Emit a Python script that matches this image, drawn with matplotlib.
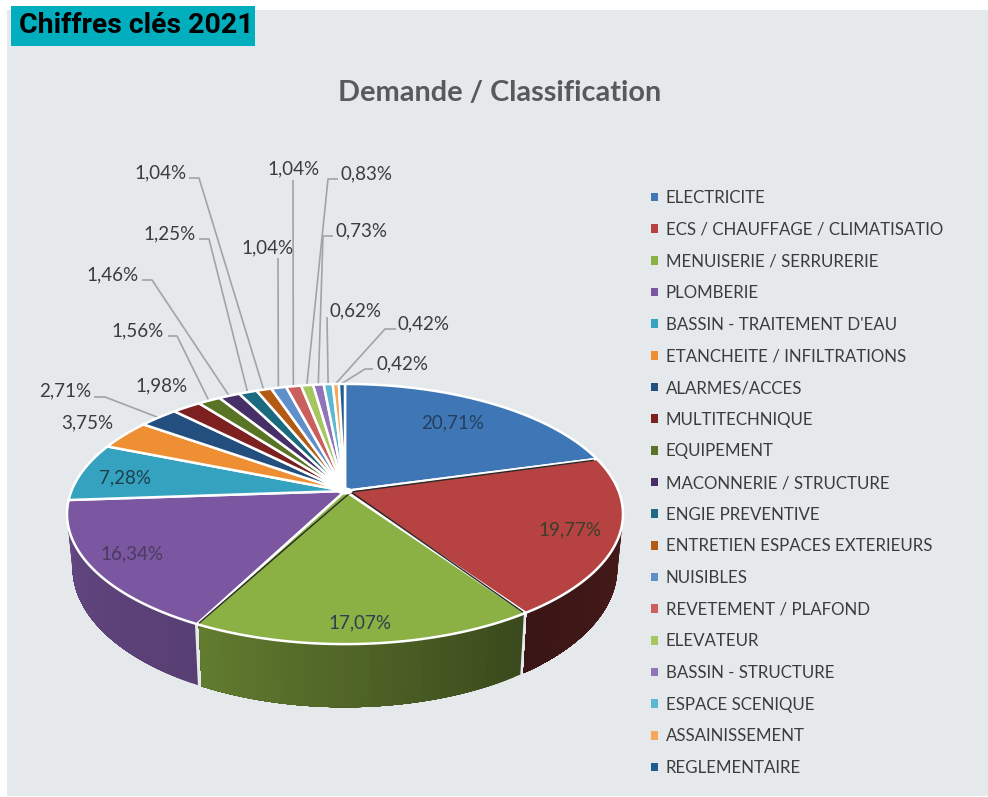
#!/usr/bin/env python3
import numpy as np
import matplotlib
matplotlib.use("Agg")
import matplotlib.pyplot as plt
from matplotlib.patches import Polygon, Rectangle

categories = ["ELECTRICITE", "ECS / CHAUFFAGE / CLIMATISATIO", "MENUISERIE / SERRURERIE",
              "PLOMBERIE", "BASSIN - TRAITEMENT D'EAU", "ETANCHEITE / INFILTRATIONS",
              "ALARMES/ACCES", "MULTITECHNIQUE", "EQUIPEMENT", "MACONNERIE / STRUCTURE",
              "ENGIE PREVENTIVE", "ENTRETIEN ESPACES EXTERIEURS", "NUISIBLES",
              "REVETEMENT / PLAFOND", "ELEVATEUR", "BASSIN - STRUCTURE", "ESPACE SCENIQUE",
              "ASSAINISSEMENT", "REGLEMENTAIRE"]
values = [20.71, 19.77, 17.07, 16.34, 7.28, 3.75, 2.71, 1.98, 1.56, 1.46,
          1.25, 1.04, 1.04, 1.04, 0.83, 0.73, 0.62, 0.42, 0.42]
colors = ["#3f76b5", "#b64342", "#8bb043", "#7a57a0", "#35a3bf", "#ef8f34", "#224f7d",
          "#7c2020", "#5a7425", "#452f66", "#1c6a7f", "#b35a14", "#5f90c9", "#cb5f5e",
          "#a5c661", "#9272b8", "#5bb8d0", "#f5a75c", "#1f5b94"]

# label centre (px) per slice
label_pos = [(453, 423), (570, 530), (360, 623), (132, 554), (125, 478), (87, 423), (65, 391),
             (161, 386), (138, 331), (112, 275), (170, 234), (160, 173), (267, 248), (293, 169),
             (366, 174), (361, 231), (355, 311), (423, 324), (402, 364)]
# leader elbows (px), first point is next to the label
leaders = {6: [(94, 397), (105, 397)], 8: [(168, 336), (177, 336)], 9: [(142, 280), (152, 280)],
           10: [(199, 239), (209, 239)], 11: [(189, 178), (199, 178)], 12: [(278, 258)],
           13: [(293, 180)], 14: [(338, 179), (328, 179)], 15: [(333, 236), (323, 236)],
           16: [(327, 317)], 17: [(396, 329), (385, 329)], 18: [(373, 369), (365, 369)]}

# pie projection, tilted disc with perspective
CX, CY = 345, 491
RX, RY = 273.6, 126
PERSP = 0.177
DEPTH = 52


def project(a, r=1.0, drop=0.0):
    # a is clockwise from 12 o'clock, radians
    u, v = r * np.sin(a), r * np.cos(a)
    w = 1 + PERSP * v
    return CX + RX * u / w * (1 - 0.02 * drop), CY - RY * v / w + DEPTH * drop / w


def shade(col, f):
    return tuple(np.array(matplotlib.colors.to_rgb(col)) * f)


fig = plt.figure(figsize=(9.88, 7.97), dpi=100, facecolor="white")
ax = fig.add_axes([0, 0, 1, 1])
ax.set_xlim(0, 988)
ax.set_ylim(797, 0)
ax.axis("off")

ax.add_patch(Rectangle((7, 10), 981, 786, fc="#e5e9ec", ec="none", zorder=0))
ax.add_patch(Rectangle((11, 6), 244, 40, fc="#00aebd", ec="none", zorder=1))
ax.text(19, 25, "Chiffres clés 2021", fontsize=20.4, fontweight="bold", color="black",
        family=["Roboto", "DejaVu Sans"], va="center", ha="left", zorder=2)
ax.text(500, 93, "Demande / Classification", fontsize=20.8, fontweight="bold", color="#595959",
        family=["Lato", "DejaVu Sans"], va="center", ha="center")

edges = np.cumsum([0] + values) / sum(values) * 2 * np.pi
# wall shading per front slice, start and end of the sweep
rim_gain = {1: (0.40, 0.32), 2: (0.42, 0.70), 3: (0.72, 0.82)}

# side wall, each band painted over the last so no seams show
for i, (a0, a1) in enumerate(zip(edges[:-1], edges[1:])):
    if i not in rim_gain:
        continue
    start = max(a0, np.pi / 2 + 0.1)
    stop = min(a1, 3 * np.pi / 2 - 0.05)
    steps = np.linspace(start + 0.007, stop - 0.007, 40)
    gains = np.linspace(rim_gain[i][0], rim_gain[i][1], 39)
    for s0, g in zip(steps[:-1], gains):
        t = np.linspace(s0, steps[-1], 30)
        xt, yt = project(t)
        xb, yb = project(t[::-1], drop=1.0)
        ax.add_patch(Polygon(np.c_[np.r_[xt, xb], np.r_[yt, yb]], fc=shade(colors[i], g), ec="none", zorder=3))

# top surface
for i, (a0, a1) in enumerate(zip(edges[:-1], edges[1:])):
    t = np.linspace(a0, a1, max(int((a1 - a0) * 60), 4))
    x, y = project(t)
    pts = np.c_[np.r_[CX, x], np.r_[CY, y]]
    ax.add_patch(Polygon(pts, fc=colors[i], ec="white", lw=1.8, joinstyle="round", zorder=4))

# dark seam next to the white slice borders
for i in (0, 1, 2):
    x, y = project(edges[i + 1], r=0.985)
    ax.plot([CX + 6, x], [CY + 1, y + 1], color="#2a2a2a", lw=1.0, zorder=5)

# white blob where the slices meet
t = np.linspace(0, 2 * np.pi, 40)
x, y = project(t, r=0.028)
ax.add_patch(Polygon(np.c_[x, y], fc="white", ec="none", zorder=5))

# leaders
for i, pts in leaders.items():
    mid = (edges[i] + edges[i + 1]) / 2
    xe, ye = project(mid, r=1.005)
    xs = [p[0] for p in pts] + [xe]
    ys = [p[1] for p in pts] + [ye]
    ax.plot(xs, ys, color="#a0a4a6", lw=1.2, zorder=3, solid_capstyle="butt")

inner_col = {0: "#24405e", 1: "#3a3f2a", 2: "#2e3f4f", 3: "#4a3a60", 4: "#1f3f4c"}
for i, (v, (lx, ly)) in enumerate(zip(values, label_pos)):
    txt = "{:.2f}%".format(v).replace(".", ",")
    ax.text(lx, ly, txt, fontsize=13.5, color=inner_col.get(i, "#3c3c3c"), ha="center", va="center",
            family=["Lato", "DejaVu Sans"], zorder=6)

handles = [Rectangle((0, 0), 1, 1, fc=c, ec="none") for c in colors]
leg = ax.legend(handles, categories, loc="upper left", bbox_to_anchor=(651 / 988, 1 - 190 / 797),
                frameon=False, labelspacing=0.925, handlelength=0.42,
                handleheight=0.42, handletextpad=0.45, borderpad=0, borderaxespad=0,
                prop={"family": ["Lato", "DejaVu Sans"], "size": 12.2})
for t in leg.get_texts():
    t.set_color("#3c3c3c")

fig.savefig("out.png", dpi=100)
